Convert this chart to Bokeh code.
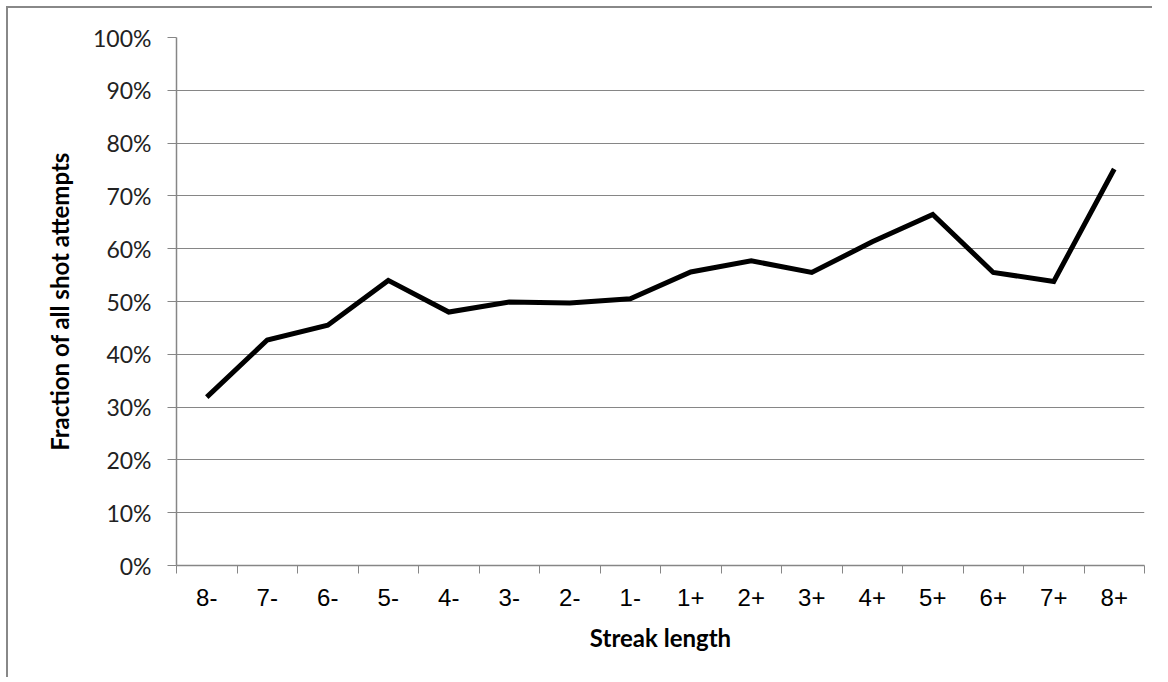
from bokeh.plotting import figure
from bokeh.models import FixedTicker, Range1d, ColumnDataSource
from bokeh.embed import file_html
from bokeh.resources import INLINE

categories = ["8-", "7-", "6-", "5-", "4-", "3-", "2-", "1-",
              "1+", "2+", "3+", "4+", "5+", "6+", "7+", "8+"]
fractions = [0.319, 0.427, 0.455, 0.540, 0.480, 0.499, 0.497, 0.505,
             0.556, 0.577, 0.555, 0.613, 0.665, 0.555, 0.538, 0.751]
y_ticks = [0.0, 0.1, 0.2, 0.3, 0.4, 0.5, 0.6, 0.7, 0.8, 0.9, 1.0]
y_tick_labels = ["0%", "10%", "20%", "30%", "40%", "50%", "60%", "70%", "80%", "90%", "100%"]

x_pos = [i + 0.5 for i in range(len(categories))]
src = ColumnDataSource(dict(x=x_pos, y=fractions, cat=categories))

GRAY = "#868686"

p = figure(
    output_backend="svg", toolbar_location=None, tools="",
    frame_width=968, frame_height=528,
    min_border_left=168, min_border_right=8, min_border_top=29, min_border_bottom=112,
    x_range=Range1d(0, len(categories)), y_range=Range1d(0, 1),
    background_fill_color="white", border_fill_color="white",
    margin=(6, 0, 0, 6),
    styles={"border-left": "2px solid #888888", "border-top": "2px solid #888888"},
)
p.outline_line_color = None

p.line("x", "y", source=src, line_color="black", line_width=5, line_join="miter")

# x axis
xa = p.xaxis[0]
xa.ticker = FixedTicker(ticks=x_pos, minor_ticks=list(range(len(categories) + 1)))
xa.major_label_overrides = {x: c for x, c in zip(x_pos, categories)}
xa.major_tick_out = 0
xa.major_tick_in = 0
xa.minor_tick_out = 8
xa.minor_tick_in = 0
xa.minor_tick_line_color = GRAY
xa.axis_line_color = GRAY
xa.axis_line_width = 1.5
xa.major_label_text_font = "Liberation Sans"
xa.major_label_text_font_size = "24px"
xa.major_label_text_color = "black"
xa.major_label_standoff = 15
xa.axis_label = "Streak length"
xa.axis_label_text_font = "Lato"
xa.axis_label_text_font_style = "bold"
xa.axis_label_text_font_size = "24px"
xa.axis_label_text_color = "black"
xa.axis_label_standoff = 14

# y axis
ya = p.yaxis[0]
ya.ticker = FixedTicker(ticks=y_ticks)
ya.major_label_overrides = {t: l for t, l in zip(y_ticks, y_tick_labels)}
ya.major_tick_out = 9
ya.major_tick_in = 0
ya.minor_tick_line_color = None
ya.major_tick_line_color = GRAY
ya.axis_line_color = GRAY
ya.axis_line_width = 1.5
ya.major_label_text_font = "Lato"
ya.major_label_text_font_size = "23px"
ya.major_label_text_color = "#222222"
ya.major_label_standoff = 16
ya.axis_label = "Fraction of all shot attempts"
ya.axis_label_text_font = "Lato"
ya.axis_label_text_font_style = "bold"
ya.axis_label_text_font_size = "24px"
ya.axis_label_text_color = "black"
ya.axis_label_standoff = 16

p.xgrid.grid_line_color = None
p.ygrid.grid_line_color = GRAY
p.ygrid.grid_line_width = 1.2

open("out.html", "w").write(file_html(p, INLINE))
